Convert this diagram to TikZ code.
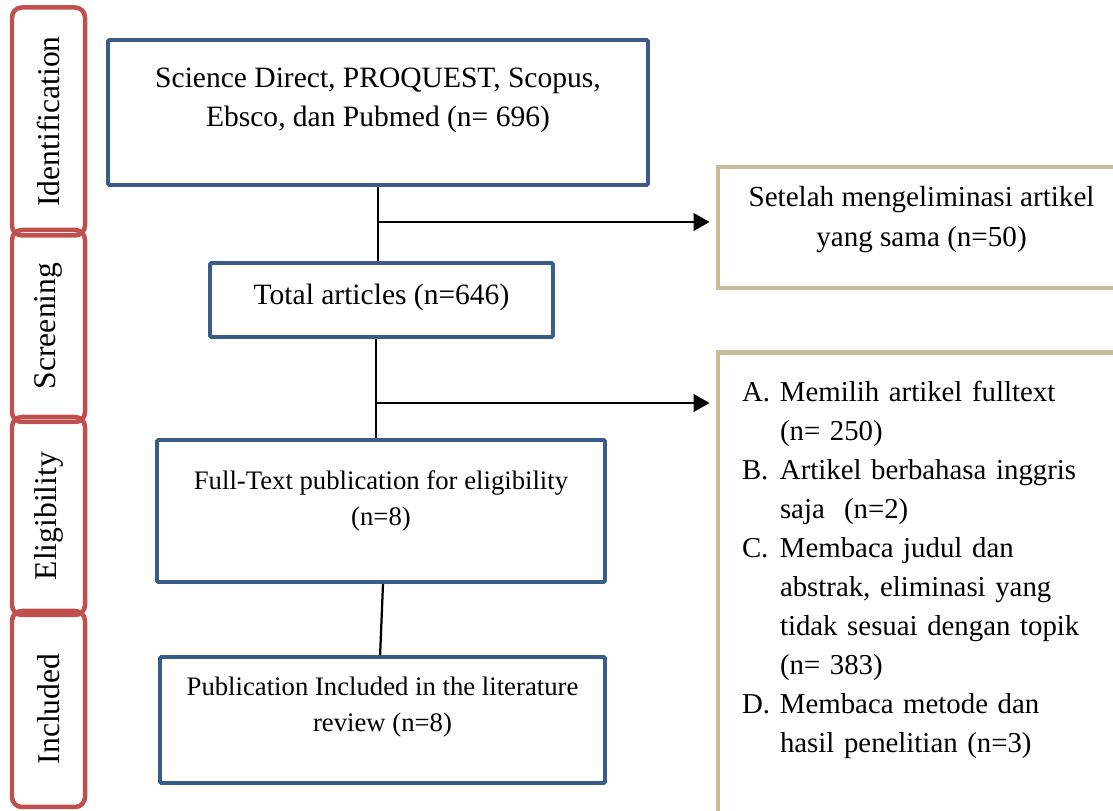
\documentclass[tikz,border=0pt]{standalone}
\usepackage{fontspec}
\setmainfont{Liberation Serif}
\usepackage{tikz}
\usetikzlibrary{arrows.meta,positioning,calc}
\definecolor{boxblue}{HTML}{385D8A}
\definecolor{stagered}{HTML}{C0504D}
\definecolor{excltan}{HTML}{C4BD97}
\newlength{\lblw}
\setlength{\lblw}{0.95cm}
\newcommand{\critem}[2]{\makebox[\lblw][l]{#1}#2}
\newcommand{\critcont}[1]{\hspace*{\lblw}#1}
\tikzset{
  stage/.style={draw=stagered, line width=3.2pt, rounded corners=7pt, rotate=90, minimum height=1.825cm, inner sep=0pt, font=\fontsize{22.5}{27}\selectfont},
  flow/.style={draw=boxblue, line width=2.8pt, rounded corners=1pt, align=center, inner sep=0pt, font=\fontsize{21}{27.5}\selectfont},
  flowsmall/.style={flow, font=\fontsize{19}{25.5}\selectfont},
  excl/.style={draw=excltan, line width=3.5pt, align=center, inner sep=0pt, font=\fontsize{20.7}{28}\selectfont},
  link/.style={line width=1.6pt},
  arrow/.style={link, -{Triangle[length=4mm,width=4.4mm]}, shorten >=1.5mm}
}

\begin{document}
\begin{tikzpicture}[x=1cm,y=1cm]
  \useasboundingbox (0,0) rectangle (27.825,20.275);
  \clip (0,0) rectangle (27.825,20.275);

  \foreach \y/\h/\name/\lab in {17.2375/5.7/sid/Identification,12.125/4.8/sscr/Screening,7.375/4.95/selig/Eligibility,2.55/4.9/sincl/Included} {
    \node[stage, minimum width=\h cm] (\name) at (1.2125,\y) {\lab};
  }

  \node[flow, minimum width=13.5cm, minimum height=3.625cm, text depth=0.75cm] (src) at (9.45,17.4625) {Science Direct, PROQUEST, Scopus,\\ Ebsco, dan Pubmed (n= 696)};
  \node[flow, minimum width=8.575cm, minimum height=1.85cm, text depth=0.3cm] (total) at (9.5375,12.775) {Total articles (n=646)};
  \node[flowsmall, minimum width=11.2cm, minimum height=3.55cm, text depth=0.65cm] (full) at (9.525,7.5) {Full-Text publication for eligibility\\ (n=8)};
  \node[flowsmall, minimum width=11.125cm, minimum height=3.15cm, text depth=0.8cm] (incl) at (9.5625,2.275) {Publication Included in the literature\\ review (n=8)};

  \node[excl, minimum width=10.175cm, minimum height=3.025cm, text depth=0.55cm] (dup) at (23.0375,14.5875) {Setelah mengeliminasi artikel\\ yang sama (n=50)};
  \node[excl, anchor=north, align=left, text width=8.975cm, inner xsep=0.6cm, inner ysep=0.72cm, font=\fontsize{20.5}{27.7}\selectfont] (crit) at (23.0375,11.525) {%
    \critem{A.}{Memilih artikel fulltext}\\
    \critcont{(n= 250)}\\
    \critem{B.}{Artikel berbahasa inggris}\\
    \critcont{saja\ \ (n=2)}\\
    \critem{C.}{Membaca judul dan}\\
    \critcont{abstrak, eliminasi yang}\\
    \critcont{tidak sesuai dengan topik}\\
    \critcont{(n= 383)}\\
    \critem{D.}{Membaca metode dan}\\
    \critcont{hasil penelitian (n=3)}\\
    \mbox{}\\
    \mbox{}};

  \coordinate (j1) at (9.45,14.725);
  \coordinate (j2) at (9.4,10.2);
  \draw[link] (src.south) -- (src.south |- total.north);
  \draw[arrow] (j1) -- (j1 -| dup.west);
  \draw[link] (total.south -| j2) -- (full.north -| j2);
  \draw[arrow] (j2) -- (j2 -| crit.west);
  \draw[link] ($(full.south)+(0.05,0)$) -- ($(incl.north)+(-0.06,0)$);
\end{tikzpicture}
\end{document}
